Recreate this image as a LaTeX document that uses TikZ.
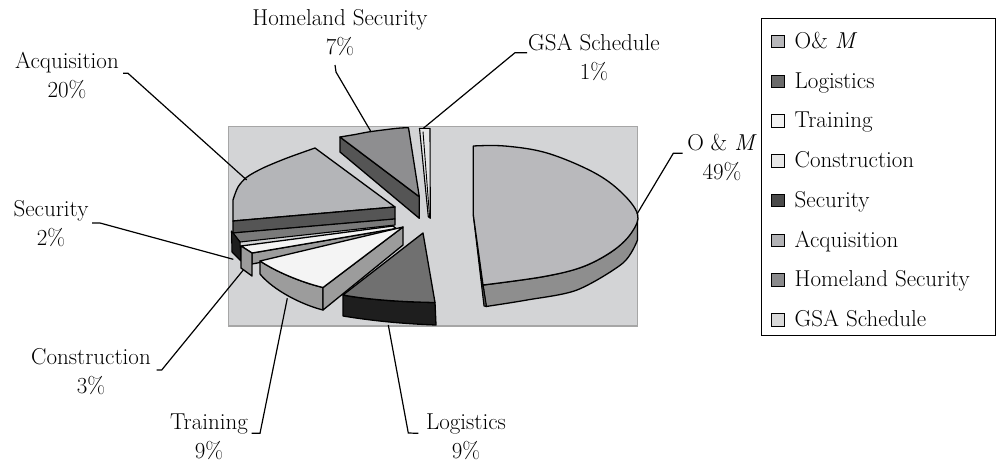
\documentclass[tikz,border=0pt]{standalone}
\usepackage{fontspec}
\definecolor{plotbg}{HTML}{D3D4D6}
\definecolor{plotframe}{HTML}{A6A6A6}
\definecolor{omtop}{HTML}{B9B9BC}
\definecolor{omside}{HTML}{8E8E8E}
\definecolor{acqtop}{HTML}{B4B5B8}
\definecolor{darkside}{HTML}{555555}
\definecolor{homtop}{HTML}{8E8E90}
\definecolor{logtop}{HTML}{707070}
\definecolor{blackside}{HTML}{1E1E1E}
\definecolor{whitetop}{HTML}{F4F4F4}
\definecolor{graySide}{HTML}{9C9C9C}
\definecolor{sectop}{HTML}{7A7A7A}
\definecolor{gsatop}{HTML}{E6E6E6}
\definecolor{legom}{HTML}{B7B7BA}
\definecolor{leglog}{HTML}{6A6A6A}
\definecolor{legtra}{HTML}{F2F2F2}
\definecolor{legcon}{HTML}{E8E8E8}
\definecolor{legsec}{HTML}{4A4A4A}
\definecolor{legacq}{HTML}{B2B2B5}
\definecolor{leghom}{HTML}{8A8A8C}
\definecolor{leggsa}{HTML}{D9D9D9}
\begin{document}
\begin{tikzpicture}[x=1pt,y=-1pt,
  font=\fontsize{23}{29}\selectfont,
  face/.style={draw=black, line width=1.3pt, line join=round},
  lbl/.style={align=center, inner sep=0pt, anchor=north},
  leader/.style={draw=black, line width=1.2pt},
  legsq/.style={draw=black, line width=0.9pt, minimum width=13pt, minimum height=12.5pt, inner sep=0pt, anchor=south west},
  legtxt/.style={anchor=base west, inner sep=0pt}]
\useasboundingbox (0,0) rectangle (996,467);

% plot area
\filldraw[fill=plotbg, draw=plotframe, line width=1.5pt] (228.3,126.5) rectangle (637.5,326);

% Homeland Security
\path[face, fill=darkside] (340,137) -- (419.3,196.7) -- (419.3,218.3) -- (340,152) -- cycle;
\path[face, fill=homtop] (419.3,196.7) -- plot[smooth] coordinates {(340,137) (355,134.5) (370,131.7) (397,128.3) (408.5,127.7)} -- cycle;

% GSA Schedule
\path[face, fill=gsatop, line width=1.1pt] (419.5,128.3) -- (430,128.3) -- (430.3,218.3) -- (428.3,216.7) -- cycle;
\draw[line width=0.9pt] (423,131.5) -- (429.6,217);

% Acquisition
\path[face, fill=acqtop] (233,221) -- plot[smooth] coordinates {(233,200) (238,187) (247,177) (263,168) (287,158) (315,148)} -- (395,207) -- cycle;
\path[face, fill=darkside] (233,221) -- (395,207) -- (395,219) -- (233,233) -- cycle;

% Security
\path[face, fill=sectop, line width=1.1pt] (233,233) -- (395,219) -- (395,225) -- (240,242) -- cycle;
\path[face, fill=blackside, line width=1.1pt] (231.5,231) -- (240,242) -- (241,261) -- (232,252) -- cycle;

% Construction
\path[face, fill=graySide] (252,253) -- (396,228.5) -- (400,230) -- (400,236) -- (252,264) -- cycle;
\path[face, fill=whitetop] (241,246) -- (393,226) -- (396,228.5) -- (252,253) -- cycle;
\path[face, fill=graySide] (241,246) -- (252,253) -- (252,276) -- (241,268) -- cycle;

% Training
\path[face, fill=graySide] (260,261) .. controls (275,271) and (300,282) .. (323,287.5) -- (323,310) .. controls (303,305) and (274,291) .. (260,274) -- cycle;
\path[face, fill=graySide] (323,287.5) -- (403,227) -- (403,245) -- (323,310) -- cycle;
\path[face, fill=whitetop] (260,261) -- (403,227) -- (323,287.5) .. controls (300,282) and (275,271) .. (260,261) -- cycle;

% Logistics
\path[face, fill=blackside] (343,295) .. controls (370,300) and (405,302) .. (435,302.5) -- (436,325) .. controls (410,324) and (380,322) .. (343,316) -- cycle;
\path[face, fill=logtop] (343,295) -- (423,233) -- (435,302.5) .. controls (405,302) and (370,300) .. (343,295) -- cycle;

% O & M
\path[face, fill=omside] plot[smooth] coordinates {(483,285) (543,276.7) (583,266.7) (614,250) (632,230) (637.5,214)} -- (637.5,240) -- plot[smooth] coordinates {(637.5,240) (623,263) (577,290) (527,300) (486,306.5)} -- cycle;
\path[face, fill=darkside, line width=1.1pt] (473.3,215) -- (483,285) -- (486.5,306.5) -- (484,306) -- cycle;
\path[face, fill=omtop] (483,285) -- (473.3,215) -- plot[smooth, tension=0.6] coordinates {(473.3,146) (505,146) (547,153) (593,172) (621,192) (637.5,214) (632,232) (614,250) (583,266.7) (543,276.7) (483,285)} -- cycle;

% labels
\node[lbl] (lhom) at (340,8.8) {Homeland Security\\7\%};
\node[lbl] (lacq) at (67,52) {Acquisition\\20\%};
\node[lbl] (lsec) at (51,200.5) {Security\\2\%};
\node[lbl] (lcon) at (91,348.7) {Construction\\3\%};
\node[lbl] (ltra) at (209,414) {Training\\9\%};
\node[lbl] (llog) at (466,414) {Logistics\\9\%};
\node[lbl] (lgsa) at (594,33.8) {GSA Schedule\\1\%};
\node[lbl] (lom) at (722,133.5) {O \& \textit{M}\\49\%};

% leader points
\coordinate (hom1) at (335,65);   \coordinate (hom2) at (336,72);   \coordinate (hom3) at (371,131.7);
\coordinate (acq1) at (123,73.3); \coordinate (acq2) at (128,73.3); \coordinate (acq3) at (246.7,180);
\coordinate (gsa1) at (527,52.7); \coordinate (gsa2) at (515,52.7); \coordinate (gsa3) at (423.3,128.3);
\coordinate (om1) at (682.7,153.3); \coordinate (om2) at (673.3,153.3); \coordinate (om3) at (637,214);
\coordinate (sec1) at (92,223);   \coordinate (sec2) at (100,223);  \coordinate (sec3) at (233.3,259.3);
\coordinate (con1) at (156.7,370); \coordinate (con2) at (161.7,370); \coordinate (con3) at (243.3,270);
\coordinate (tra1) at (251.7,433.3); \coordinate (tra2) at (260,433.3); \coordinate (tra3) at (287.3,298.3);
\coordinate (log1) at (418.3,433.3); \coordinate (log2) at (408.3,433); \coordinate (log3) at (388.3,325);

\draw[leader] (hom1) -- (hom2) -- (hom3);
\draw[leader] (acq1) -- (acq2) -- (acq3);
\draw[leader] (gsa1) -- (gsa2) -- (gsa3);
\draw[leader] (om1) -- (om2) -- (om3);
\draw[leader] (sec1) -- (sec2) -- (sec3);
\draw[leader] (con1) -- (con2) -- (con3);
\draw[leader] (tra1) -- (tra2) -- (tra3);
\draw[leader] (log1) -- (log2) -- (log3);

% legend
\node[draw=black, line width=1.3pt, fill=white, minimum width=234pt, minimum height=317pt, anchor=north west, inner sep=0pt] (legbox) at (761,18) {};
\foreach \i/\c/\t in {0/legom/{O\& \textit{M}},1/leglog/Logistics,2/legtra/Training,3/legcon/Construction,4/legsec/Security,5/legacq/Acquisition,6/leghom/Homeland Security,7/leggsa/GSA Schedule}{
  \node[legsq, fill=\c] (legsq\i) at (771,48.3+39.75*\i) {};
  \node[legtxt] (legtx\i) at (794.5,48.3+39.75*\i) {\t};
}
\end{tikzpicture}
\end{document}
